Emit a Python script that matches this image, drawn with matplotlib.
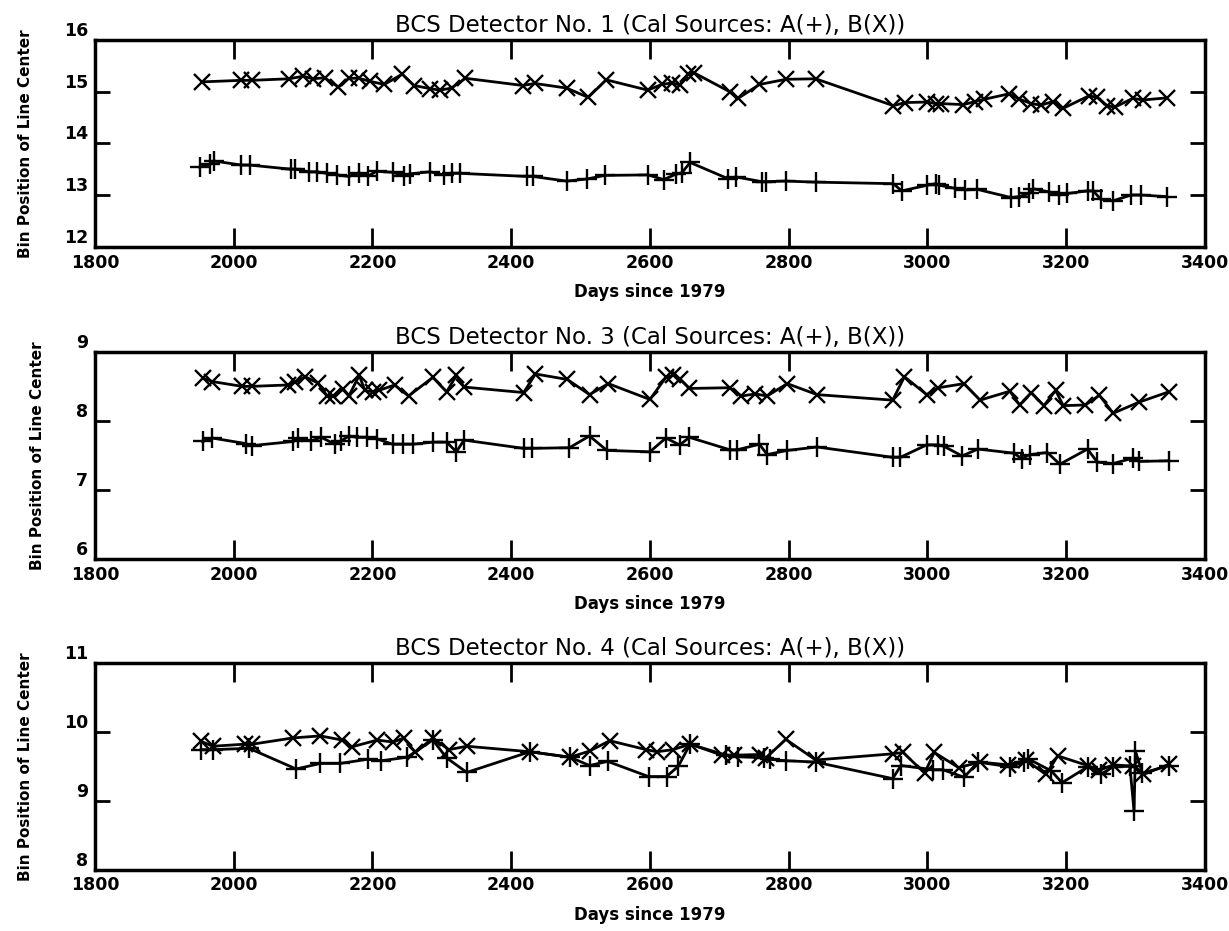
import matplotlib
matplotlib.use("Agg")
import matplotlib.pyplot as plt
import numpy as np

# detector 1
d1_a_days = [1951, 1966, 1971, 2011, 2023, 2083, 2089, 2109, 2120, 2134, 2149, 2166, 2180, 2194, 2206,
             2229, 2246, 2254, 2283, 2303, 2314, 2326, 2423, 2431, 2480, 2509, 2535, 2597, 2620, 2637,
             2646, 2658, 2712, 2724, 2761, 2767, 2796, 2839, 2951, 2963, 3000, 3012, 3017, 3040, 3055,
             3072, 3121, 3132, 3147, 3153, 3176, 3190, 3202, 3231, 3239, 3250, 3268, 3294, 3308, 3345]
d1_a_vals = [13.54, 13.60, 13.66, 13.58, 13.58, 13.50, 13.50, 13.45, 13.45, 13.42, 13.39, 13.36, 13.43, 13.37, 13.46,
             13.44, 13.37, 13.41, 13.45, 13.39, 13.42, 13.42, 13.36, 13.36, 13.27, 13.31, 13.38, 13.39, 13.30, 13.40,
             13.43, 13.63, 13.32, 13.35, 13.26, 13.26, 13.27, 13.25, 13.22, 13.08, 13.19, 13.22, 13.19, 13.13, 13.10,
             13.11, 12.95, 12.97, 13.03, 13.12, 13.06, 13.00, 13.03, 13.08, 13.08, 12.92, 12.89, 13.00, 13.00, 12.97]
d1_b_days = [1954, 2011, 2026, 2080, 2100, 2114, 2131, 2151, 2166, 2180, 2197, 2217, 2243, 2260, 2283,
             2297, 2314, 2334, 2417, 2434, 2480, 2511, 2537, 2597, 2617, 2632, 2643, 2655, 2663, 2715,
             2727, 2758, 2796, 2839, 2951, 2968, 3000, 3012, 3020, 3052, 3069, 3081, 3118, 3132, 3150,
             3164, 3181, 3196, 3233, 3245, 3259, 3270, 3296, 3311, 3345]
d1_b_vals = [15.19, 15.22, 15.22, 15.25, 15.30, 15.25, 15.27, 15.09, 15.26, 15.26, 15.20, 15.14, 15.34, 15.12, 15.06,
             15.03, 15.07, 15.26, 15.12, 15.16, 15.07, 14.89, 15.23, 15.03, 15.14, 15.17, 15.13, 15.34, 15.37, 15.00,
             14.87, 15.14, 15.24, 15.25, 14.73, 14.79, 14.80, 14.77, 14.77, 14.75, 14.81, 14.85, 14.96, 14.86, 14.77,
             14.74, 14.81, 14.68, 14.92, 14.89, 14.73, 14.70, 14.87, 14.84, 14.88]

# detector 3
d3_a_days = [1955, 1969, 2017, 2026, 2086, 2092, 2112, 2126, 2146, 2155, 2166, 2178, 2192, 2206, 2229,
             2244, 2258, 2287, 2307, 2321, 2332, 2418, 2430, 2484, 2513, 2538, 2600, 2623, 2643, 2657,
             2715, 2726, 2758, 2769, 2798, 2841, 2950, 2961, 2999, 3016, 3024, 3050, 3073, 3125, 3136,
             3148, 3173, 3191, 3231, 3245, 3268, 3297, 3305, 3348]
d3_a_vals = [7.70, 7.75, 7.67, 7.64, 7.70, 7.75, 7.71, 7.76, 7.66, 7.71, 7.78, 7.76, 7.76, 7.74, 7.66,
             7.66, 7.66, 7.69, 7.69, 7.55, 7.72, 7.60, 7.60, 7.61, 7.78, 7.57, 7.55, 7.75, 7.65, 7.76,
             7.58, 7.58, 7.66, 7.51, 7.57, 7.62, 7.47, 7.47, 7.65, 7.65, 7.63, 7.49, 7.59, 7.53, 7.45,
             7.51, 7.54, 7.37, 7.59, 7.40, 7.38, 7.46, 7.41, 7.42]
d3_b_days = [1955, 1969, 2012, 2026, 2078, 2089, 2103, 2121, 2135, 2143, 2158, 2166, 2181, 2189, 2201,
             2209, 2232, 2252, 2287, 2307, 2321, 2332, 2418, 2435, 2481, 2513, 2540, 2600, 2623, 2634,
             2643, 2657, 2715, 2732, 2752, 2769, 2798, 2841, 2950, 2967, 2999, 3016, 3053, 3076, 3119,
             3133, 3150, 3168, 3185, 3196, 3228, 3248, 3268, 3305, 3348]
d3_b_vals = [8.62, 8.57, 8.50, 8.50, 8.52, 8.56, 8.64, 8.55, 8.36, 8.36, 8.46, 8.36, 8.66, 8.44, 8.42,
             8.44, 8.52, 8.36, 8.63, 8.42, 8.66, 8.49, 8.41, 8.68, 8.60, 8.38, 8.54, 8.31, 8.63, 8.66,
             8.61, 8.47, 8.48, 8.36, 8.39, 8.36, 8.54, 8.38, 8.30, 8.64, 8.38, 8.48, 8.54, 8.30, 8.43,
             8.23, 8.41, 8.22, 8.44, 8.22, 8.23, 8.37, 8.11, 8.27, 8.42]

# detector 4
d4_a_days = [1953, 1970, 2022, 2090, 2125, 2153, 2193, 2213, 2250, 2287, 2307, 2336, 2427, 2485, 2513,
             2539, 2598, 2624, 2641, 2658, 2710, 2727, 2764, 2773, 2796, 2839, 2950, 2962, 3008, 3022,
             3053, 3073, 3119, 3139, 3145, 3179, 3194, 3231, 3251, 3268, 3292, 3298, 3300, 3310, 3349]
d4_a_vals = [9.74, 9.74, 9.76, 9.46, 9.54, 9.54, 9.60, 9.58, 9.63, 9.88, 9.62, 9.41, 9.71, 9.63, 9.51,
             9.57, 9.35, 9.35, 9.50, 9.82, 9.66, 9.64, 9.62, 9.60, 9.58, 9.56, 9.32, 9.51, 9.45, 9.45,
             9.34, 9.56, 9.49, 9.56, 9.61, 9.43, 9.26, 9.49, 9.39, 9.49, 9.50, 8.85, 9.72, 9.40, 9.51]
d4_b_days = [1953, 1970, 2016, 2027, 2085, 2125, 2156, 2170, 2207, 2230, 2245, 2262, 2287, 2310, 2336,
             2427, 2485, 2513, 2542, 2595, 2610, 2633, 2658, 2704, 2721, 2759, 2767, 2796, 2839, 2950,
             2965, 2996, 3010, 3045, 3076, 3116, 3142, 3171, 3188, 3231, 3248, 3268, 3297, 3311, 3349]
d4_b_vals = [9.86, 9.79, 9.82, 9.82, 9.91, 9.94, 9.88, 9.78, 9.88, 9.85, 9.91, 9.70, 9.91, 9.74, 9.79,
             9.71, 9.63, 9.72, 9.87, 9.74, 9.71, 9.74, 9.82, 9.66, 9.66, 9.67, 9.62, 9.89, 9.59, 9.68,
             9.70, 9.40, 9.70, 9.48, 9.56, 9.52, 9.59, 9.38, 9.65, 9.51, 9.44, 9.52, 9.50, 9.38, 9.53]

detector_nums = [1, 3, 4]
y_ranges = [(12, 16), (6, 9), (8, 11)]
x_ticks = [1800, 2000, 2200, 2400, 2600, 2800, 3000, 3200, 3400]


def draw_panel(ax, num, a_days, a_vals, b_days, b_vals, y_range):
    ax.plot(a_days, a_vals, color="black", lw=2, marker="+", ms=14, mew=1.7)
    ax.plot(b_days, b_vals, color="black", lw=2, marker="x", ms=12, mew=1.7)

    ax.set_xlim(1800, 3400)
    ax.set_ylim(y_range)
    ax.set_xticks(x_ticks)
    ax.set_yticks(np.arange(y_range[0], y_range[1] + 1))

    ax.tick_params(axis="x", direction="in", top=True, length=14, width=2, labelsize=12.5, pad=5)
    ax.tick_params(axis="y", direction="in", right=True, length=11, width=2, labelsize=12.5, pad=5)
    for lab in ax.get_xticklabels():
        lab.set_fontweight("bold")
    # y labels sit a little above their ticks, like the original
    for lab in ax.get_yticklabels():
        lab.set_fontweight("bold")
        lab.set_verticalalignment("bottom")
    for sp in ax.spines.values():
        sp.set_linewidth(2.5)

    ax.set_title("BCS Detector No. " + str(num) + " (Cal Sources: A(+), B(X))", fontsize=16.5, pad=6)
    ax.set_xlabel("Days since 1979", fontsize=12, fontweight="bold", labelpad=8)
    ax.set_ylabel("Bin Position of Line Center", fontsize=11, fontweight="bold", labelpad=22)


fig = plt.figure(figsize=(12.29, 9.31), dpi=100)

bottoms = [0.735, 0.400, 0.066]
data = [(d1_a_days, d1_a_vals, d1_b_days, d1_b_vals),
        (d3_a_days, d3_a_vals, d3_b_days, d3_b_vals),
        (d4_a_days, d4_a_vals, d4_b_days, d4_b_vals)]

for i in range(3):
    ax = fig.add_axes([0.0773, bottoms[i], 0.903, 0.222])
    a_days, a_vals, b_days, b_vals = data[i]
    draw_panel(ax, detector_nums[i], a_days, a_vals, b_days, b_vals, y_ranges[i])

fig.savefig("out.png", dpi=100)
